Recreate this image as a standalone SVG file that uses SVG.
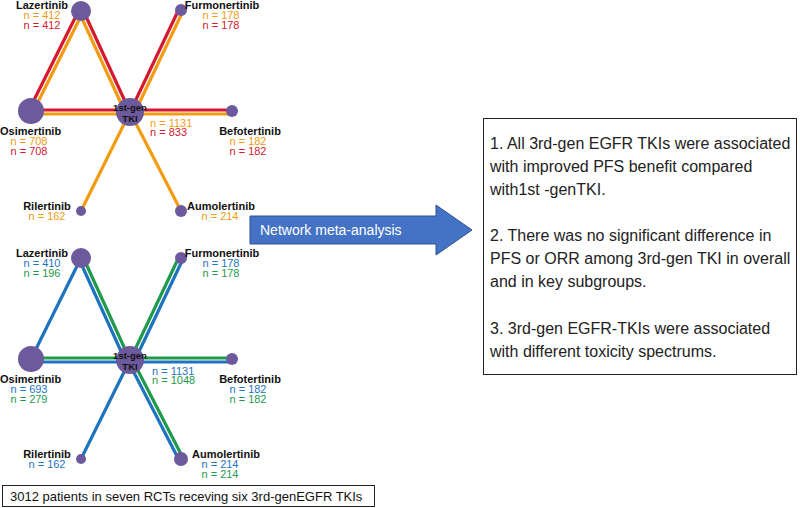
<svg xmlns="http://www.w3.org/2000/svg" width="800" height="508" viewBox="0 0 800 508">
<style>
.o{stroke:#F39C12;stroke-width:3.2;fill:none}
.r{stroke:#D4182E;stroke-width:3.2;fill:none}
.b{stroke:#1E73BE;stroke-width:3.2;fill:none}
.g{stroke:#1E9A4A;stroke-width:3.2;fill:none}
.n{fill:#6D5A9C}
text{font-family:"Liberation Sans",Arial,sans-serif}
.nm{font-size:11px;font-weight:bold;fill:#111}
.c{font-size:9.5px;font-weight:bold;fill:#111}
.to{font-size:11px;fill:#F39C12}
.tr{font-size:11px;fill:#D4182E}
.tb{font-size:11px;fill:#1E73BE}
.tg{font-size:11px;fill:#1E9A4A}
.box{fill:#fff;stroke:#222;stroke-width:1}
.t{font-size:16px;fill:#222}
</style>
<g id="connectors">
<line class="r" x1="79" y1="10" x2="29" y2="110"/><line class="o" x1="83" y1="12" x2="33" y2="112"/>
<line class="r" x1="83" y1="10" x2="129" y2="110"/><line class="o" x1="79" y1="12" x2="125" y2="112"/>
<line class="r" x1="179" y1="9" x2="131" y2="110"/><line class="o" x1="183" y1="11" x2="135" y2="112"/>
<line class="r" x1="31" y1="110" x2="232" y2="110"/><line class="o" x1="31" y1="114" x2="232" y2="114"/>
<line class="o" x1="81" y1="211" x2="130" y2="112"/>
<line class="o" x1="181" y1="211" x2="130" y2="112"/>
<line class="b" x1="81" y1="258" x2="31" y2="359"/>
<line class="g" x1="83" y1="257" x2="129" y2="358"/><line class="b" x1="79" y1="259" x2="125" y2="360"/>
<line class="g" x1="179" y1="257" x2="131" y2="358"/><line class="b" x1="183" y1="259" x2="135" y2="360"/>
<line class="g" x1="31" y1="358" x2="232" y2="358"/><line class="b" x1="31" y1="362" x2="232" y2="362"/>
<line class="b" x1="81" y1="459" x2="130" y2="360"/>
<line class="b" x1="179" y1="460" x2="128" y2="361"/><line class="g" x1="183" y1="458" x2="132" y2="359"/>
</g>
<g id="top-network">
<circle class="n" cx="81" cy="11" r="10"/><circle class="n" cx="181" cy="10" r="6"/>
<circle class="n" cx="31" cy="111" r="13"/><circle class="n" cx="130" cy="112" r="14"/>
<circle class="n" cx="232" cy="111" r="6"/><circle class="n" cx="81" cy="211" r="5"/><circle class="n" cx="181" cy="211" r="6"/>
<text class="c" x="130" y="111" text-anchor="middle">1st-gen</text><text class="c" x="130" y="122" text-anchor="middle">TKI</text>
<text class="nm" x="42" y="9" text-anchor="middle">Lazertinib</text><text class="to" x="42" y="19" text-anchor="middle">n = 412</text><text class="tr" x="42" y="29" text-anchor="middle">n = 412</text>
<text class="nm" x="222" y="9" text-anchor="middle">Furmonertinib</text><text class="to" x="221" y="19" text-anchor="middle">n = 178</text><text class="tr" x="221" y="29" text-anchor="middle">n = 178</text>
<text class="nm" x="0" y="135">Osimertinib</text><text class="to" x="29" y="145" text-anchor="middle">n = 708</text><text class="tr" x="29" y="155" text-anchor="middle">n = 708</text>
<text class="to" x="150" y="127">n = 1131</text><text class="tr" x="150" y="136">n = 833</text>
<text class="nm" x="250" y="135" text-anchor="middle">Befotertinib</text><text class="to" x="248" y="145" text-anchor="middle">n = 182</text><text class="tr" x="248" y="155" text-anchor="middle">n = 182</text>
<text class="nm" x="47" y="210" text-anchor="middle">Rilertinib</text><text class="to" x="47" y="220" text-anchor="middle">n = 162</text>
<text class="nm" x="221" y="210" text-anchor="middle">Aumolertinib</text><text class="to" x="220" y="220" text-anchor="middle">n = 214</text>
</g>
<g id="bottom-network">
<circle class="n" cx="81" cy="258" r="10"/><circle class="n" cx="181" cy="258" r="6"/>
<circle class="n" cx="31" cy="359" r="13"/><circle class="n" cx="130" cy="360" r="14"/>
<circle class="n" cx="232" cy="359" r="6"/><circle class="n" cx="81" cy="459" r="5"/><circle class="n" cx="181" cy="459" r="7"/>
<text class="c" x="130" y="359" text-anchor="middle">1st-gen</text><text class="c" x="130" y="370" text-anchor="middle">TKI</text>
<text class="nm" x="42" y="257" text-anchor="middle">Lazertinib</text><text class="tb" x="42" y="267" text-anchor="middle">n = 410</text><text class="tg" x="42" y="277" text-anchor="middle">n = 196</text>
<text class="nm" x="222" y="257" text-anchor="middle">Furmonertinib</text><text class="tb" x="221" y="267" text-anchor="middle">n = 178</text><text class="tg" x="221" y="277" text-anchor="middle">n = 178</text>
<text class="nm" x="0" y="383">Osimertinib</text><text class="tb" x="29" y="393" text-anchor="middle">n = 693</text><text class="tg" x="29" y="403" text-anchor="middle">n = 279</text>
<text class="tb" x="152" y="375">n = 1131</text><text class="tg" x="152" y="384">n = 1048</text>
<text class="nm" x="250" y="383" text-anchor="middle">Befotertinib</text><text class="tb" x="248" y="393" text-anchor="middle">n = 182</text><text class="tg" x="248" y="403" text-anchor="middle">n = 182</text>
<text class="nm" x="47" y="458" text-anchor="middle">Rilertinib</text><text class="tb" x="47" y="468" text-anchor="middle">n = 162</text>
<text class="nm" x="226" y="458" text-anchor="middle">Aumolertinib</text><text class="tb" x="220" y="468" text-anchor="middle">n = 214</text><text class="tg" x="220" y="478" text-anchor="middle">n = 214</text>
</g>
<g id="caption">
<rect class="box" x="2.5" y="485.5" width="372" height="21"/>
<text x="10" y="501" style="font-size:13px;fill:#111">3012 patients in seven RCTs receving six 3rd-genEGFR TKIs</text>
</g>
<g id="arrow">
<polygon points="250,216 436,216 436,205 472,230 436,255 436,244 250,244" fill="#4472C4" stroke="#2F528F" stroke-width="1"/>
<text x="260" y="235" style="font-size:14px;fill:#fff">Network meta-analysis</text>
</g>
<g id="summary">
<rect class="box" x="483.5" y="118.5" width="313" height="256"/>
<text class="t" x="490" y="149">1. All 3rd-gen EGFR TKIs were associated</text>
<text class="t" x="490" y="172">with improved PFS benefit compared</text>
<text class="t" x="490" y="195">with1st -genTKI.</text>
<text class="t" x="490" y="241">2. There was no significant difference in</text>
<text class="t" x="490" y="264">PFS or ORR among 3rd-gen TKI in overall</text>
<text class="t" x="490" y="287">and in key subgroups.</text>
<text class="t" x="490" y="334">3. 3rd-gen EGFR-TKIs were associated</text>
<text class="t" x="490" y="357">with different toxicity spectrums.</text>
</g>
</svg>
